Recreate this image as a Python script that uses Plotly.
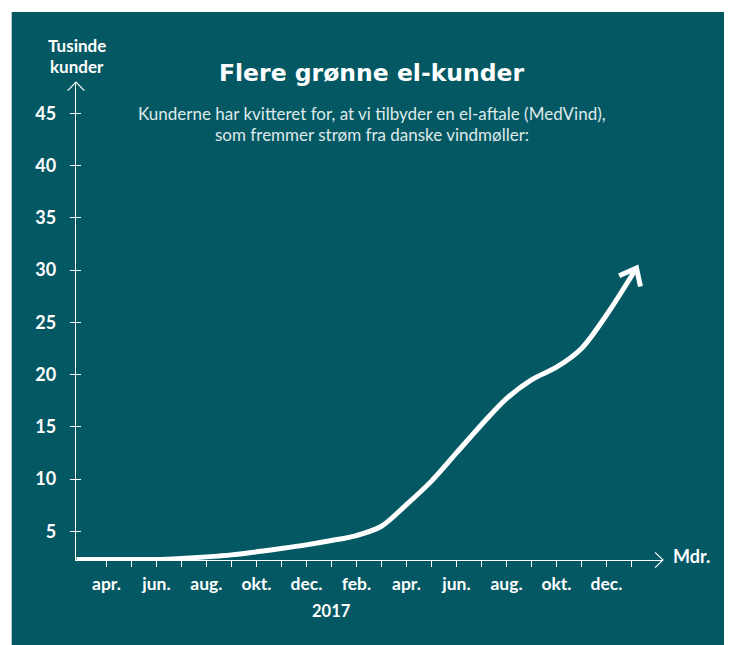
import math
import plotly.graph_objects as go

# ---------------- data ----------------
month_index = [-1.2, 0, 1, 2, 3, 4, 5, 6, 7, 8, 9, 10, 11, 12, 13, 14, 15, 16, 17, 18, 19, 20, 21.2]
customers_k = [2.3, 2.3, 2.3, 2.3, 2.4, 2.55, 2.74, 3.03, 3.35, 3.7, 4.11, 4.59, 5.48, 7.55,
               9.8, 12.5, 15.2, 17.7, 19.5, 20.7, 22.5, 25.7, 30.2]
tick_months = list(range(0, 22))
month_labels = ["apr.", "", "jun.", "", "aug.", "", "okt.", "", "dec.", "", "feb.", "",
                "apr.", "", "jun.", "", "aug.", "", "okt.", "", "dec.", ""]
y_ticks = [5, 10, 15, 20, 25, 30, 35, 40, 45]
year_label = "2017"
year_month = 9

# ---------------- layout constants ----------------
OFF = 8                      # page body margin
W, H = 732, 645
# plot area in screen pixels
SX0, SX1, SY0, SY1 = 76.3, 663.3, 82.0, 560.5
L = SX0 - OFF
R = W - (SX1 - OFF)
T = SY0 - OFF
B = H - (SY1 - OFF)
PW, PH = W - L - R, H - T - B
BG = "#035863"
WHITE = "#ffffff"
FONT = "Lato"
X_RANGE = [-1.216, 22.26]
Y_RANGE = [2.25, 48.0]


def px(x):
    return (x - OFF - L) / PW


def py(y):
    return (H - (y - OFF) - B) / PH


fig = go.Figure()

fig.add_trace(go.Scatter(
    x=month_index, y=customers_k, mode="lines",
    line=dict(color=WHITE, width=5, shape="spline", smoothing=0.9),
    hoverinfo="skip", showlegend=False, cliponaxis=False,
))
# invisible trace to activate second y axis (for crossing ticks)
fig.add_trace(go.Scatter(x=[month_index[0]], y=[customers_k[0]], yaxis="y2",
                         mode="markers", marker=dict(opacity=0), showlegend=False,
                         hoverinfo="skip"))

shapes = []
# panel background
shapes.append(dict(type="rect", xref="paper", yref="paper", layer="below",
                   x0=px(12), x1=px(W + 20), y0=py(H + 20), y1=py(12),
                   fillcolor=BG, line=dict(width=0)))


def chevron(xanchor, yanchor, xref, yref, angle_deg, length, half_angle, width):
    back = math.radians(angle_deg + 180)
    a1 = back - math.radians(half_angle)
    a2 = back + math.radians(half_angle)
    p1 = (length * math.cos(a1), length * math.sin(a1))
    p2 = (length * math.cos(a2), length * math.sin(a2))
    path = f"M {p1[0]:.2f},{p1[1]:.2f} L 0,0 L {p2[0]:.2f},{p2[1]:.2f}"
    return dict(type="path", xref=xref, yref=yref, xsizemode="pixel", ysizemode="pixel",
                xanchor=xanchor, yanchor=yanchor, path=path,
                line=dict(color=WHITE, width=width), layer="above")


# axis arrows
shapes.append(chevron(1, 0, "paper", "paper", 0, 11, 44, 1.2))
shapes.append(chevron(0, 1, "paper", "paper", 90, 12, 44, 1.2))
# arrow at end of curve
shapes.append(chevron(month_index[-1], customers_k[-1], "x", "y", 63, 19, 39, 5))

annotations = [
    dict(text="<b>Flere grønne el-kunder</b>", x=px(372), y=py(73),
         font=dict(family="DejaVu Sans", size=23.5, color=WHITE)),
    dict(text="Kunderne har kvitteret for, at vi tilbyder en el-aftale (MedVind),",
         x=px(372), y=py(114), font=dict(family=FONT, size=17, color="#dfe9ea")),
    dict(text="som fremmer strøm fra danske vindmøller:",
         x=px(372), y=py(135), font=dict(family=FONT, size=17, color="#dfe9ea")),
    dict(text="<b>Tusinde</b>", x=px(77), y=py(45), font=dict(family=FONT, size=17, color=WHITE)),
    dict(text="<b>kunder</b>", x=px(77), y=py(66), font=dict(family=FONT, size=17, color=WHITE)),
    dict(text="<b>Mdr.</b>", x=px(671), y=py(556), xanchor="left",
         font=dict(family=FONT, size=18, color=WHITE)),
    dict(text=f"<b>{year_label}</b>", x=year_month, xref="x", y=py(612),
         font=dict(family=FONT, size=16.5, color=WHITE)),
]
for a in annotations:
    a.setdefault("xref", "paper")
    a.setdefault("yref", "paper")
    a.setdefault("xanchor", "center")
    a["yanchor"] = "middle"
    a["showarrow"] = False

fig.update_layout(
    width=W, height=H,
    margin=dict(l=L, r=R, t=T, b=B, autoexpand=False),
    paper_bgcolor=WHITE, plot_bgcolor="rgba(0,0,0,0)",
    shapes=shapes, annotations=annotations,
    xaxis=dict(range=X_RANGE, showgrid=False, zeroline=False, showline=True,
               linecolor=WHITE, linewidth=1.3, ticks="outside", ticklen=6, tickwidth=1.2,
               tickcolor=WHITE, tickvals=tick_months, ticktext=month_labels,
               tickfont=dict(family=FONT, size=17.5, color=WHITE, weight="bold"),
               ticklabelstandoff=2, automargin=False, fixedrange=True),
    yaxis=dict(range=Y_RANGE, showgrid=False, zeroline=False, showline=True,
               linecolor=WHITE, linewidth=1.3, ticks="outside", ticklen=5, tickwidth=1.2,
               tickcolor=WHITE, tickvals=y_ticks,
               tickfont=dict(family=FONT, size=18, color=WHITE, weight="bold"),
               ticklabelstandoff=10, automargin=False, fixedrange=True),
    yaxis2=dict(range=Y_RANGE, overlaying="y", side="left", showgrid=False, zeroline=False,
                showline=False, ticks="inside", ticklen=5, tickwidth=1.2, tickcolor=WHITE,
                tickvals=y_ticks, showticklabels=False, automargin=False, fixedrange=True),
)

fig.write_html("out.html")
